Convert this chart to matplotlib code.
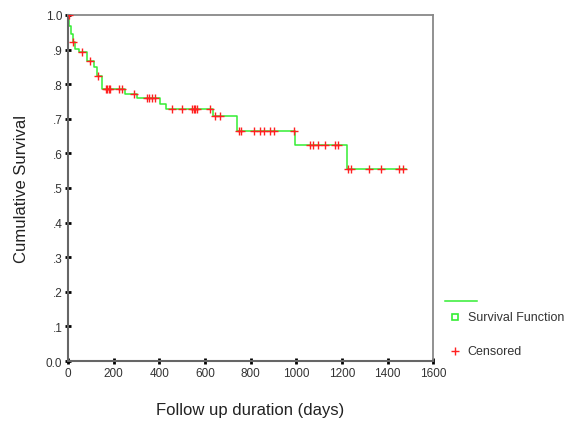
import matplotlib as mpl
mpl.use('Agg')  # Headless
import matplotlib.pyplot as plt
from matplotlib.lines import Line2D

plt.rcParams['font.family'] = ['Liberation Sans', 'DejaVu Sans']

# Kaplan-Meier steps (day, survival after the step)
step_days = [0, 3, 12, 20, 30, 47, 83, 113, 127, 149, 251, 303, 405, 428, 636, 742, 995, 1222, 1480]
step_surv = [1.0, 0.969, 0.945, 0.922, 0.902, 0.892, 0.868, 0.849, 0.825, 0.786, 0.772, 0.759,
             0.743, 0.728, 0.709, 0.665, 0.624, 0.555, 0.555]

# censored cases
cens_days = [5, 24, 61, 98, 130,
             165, 171, 178, 184, 222, 237,
             290,
             346, 356, 367, 380,
             455, 498, 542, 550, 558, 566, 622,
             645, 666,
             750, 758, 813, 842, 859, 883, 903, 992,
             1061, 1075, 1097, 1127, 1171, 1185,
             1229, 1240, 1317, 1371, 1449, 1470]
cens_surv = [1.0, 0.922, 0.892, 0.868, 0.825,
             0.786, 0.786, 0.786, 0.786, 0.786, 0.786,
             0.772,
             0.759, 0.759, 0.759, 0.759,
             0.728, 0.728, 0.728, 0.728, 0.728, 0.728, 0.728,
             0.709, 0.709,
             0.665, 0.665, 0.665, 0.665, 0.665, 0.665, 0.665, 0.665,
             0.624, 0.624, 0.624, 0.624, 0.624, 0.624,
             0.555, 0.555, 0.555, 0.555, 0.555, 0.555]

xticks = [0, 200, 400, 600, 800, 1000, 1200, 1400, 1600]
yticks = [0.0, 0.1, 0.2, 0.3, 0.4, 0.5, 0.6, 0.7, 0.8, 0.9, 1.0]
ylabels = ['0.0', '.1', '.2', '.3', '.4', '.5', '.6', '.7', '.8', '.9', '1.0']

green = '#33ee33'
red = '#ff2020'

fig = plt.figure(figsize=(5.76, 4.31), dpi=100)
ax = fig.add_axes([0.118, 0.160, 0.634, 0.803])

ax.step(step_days, step_surv, where='post', color=green, lw=1.1, zorder=2)
ax.plot(cens_days, cens_surv, ls='none', marker='+', ms=6, mew=1.0, color=red, zorder=3)

ax.set_xlim(0, 1600)
ax.set_ylim(0, 1.0)
ax.set_xticks(xticks)
ax.set_yticks(yticks)
ax.set_yticklabels(ylabels)
ax.tick_params(direction='inout', length=4, width=2, color='black', labelsize=8.5, pad=2,
               labelcolor='#333333')
for s in ax.spines.values():
    s.set_color('#666666')
    s.set_linewidth(1.5)
for s in ['top', 'right']:
    ax.spines[s].set_color('#888888')
    ax.spines[s].set_linewidth(1.3)

ax.set_xlabel('Follow up duration (days)', fontsize=12, labelpad=17, color='#222222')
ax.set_ylabel('Cumulative Survival', fontsize=12, labelpad=12, color='#222222')

# legend (SPSS style, outside right)
fig.add_artist(Line2D([0.773, 0.828], [0.299, 0.299], color=green, lw=1.1, transform=fig.transFigure))
fig.add_artist(Line2D([0.790], [0.262], ls='none', marker='s', ms=4, mfc='none', mec=green, mew=1.2,
                      transform=fig.transFigure))
fig.text(0.812, 0.262, 'Survival Function', fontsize=9, va='center', color='#333333')
fig.add_artist(Line2D([0.790], [0.183], ls='none', marker='+', ms=6, mew=1.0, color=red,
                      transform=fig.transFigure))
fig.text(0.812, 0.183, 'Censored', fontsize=9, va='center', color='#333333')

plt.savefig('out.png', dpi=100)
